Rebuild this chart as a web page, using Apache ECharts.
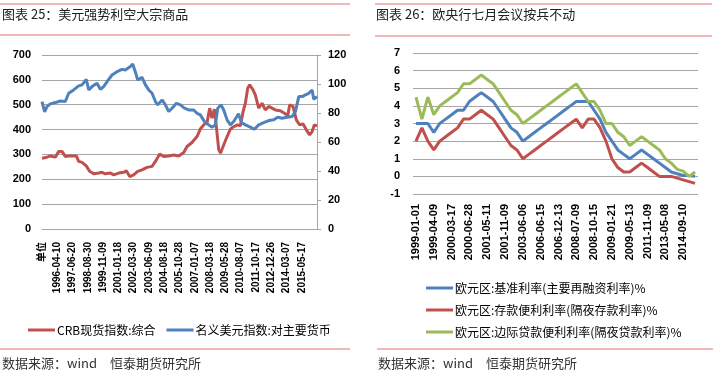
<!DOCTYPE html>
<html><head><meta charset="utf-8">
<script src="https://cdn.jsdelivr.net/npm/echarts@6/dist/echarts.min.js"></script>
<style>html,body{margin:0;padding:0;background:#fff}#c{width:717px;height:382px}</style>
</head><body><div id="c"></div>
<script>
// ---------- Left chart data (CRB vs US dollar index) ----------
const crbDates = ['1995-01-30','1995-06-20','1995-09-24','1996-02-14','1996-05-18','1996-08-22','1996-11-25','1997-03-01','1997-06-03','1997-10-05','1997-12-12','1998-03-18','1998-07-16','1998-10-19','1999-02-14','1999-07-05','1999-10-08','2000-01-12','2000-06-03','2000-09-06','2001-01-26','2001-06-18','2001-09-02','2001-12-06','2002-03-28','2002-07-22','2002-11-24','2003-04-16','2003-09-06','2003-12-10','2004-04-11','2004-08-04','2004-12-24','2005-05-16','2005-10-05','2006-02-25','2006-05-30','2006-10-19','2007-03-11','2007-06-13','2007-10-07','2007-12-20','2008-03-07','2008-05-12','2008-07-18','2008-09-13','2008-11-20','2009-01-08','2009-03-25','2009-07-16','2009-10-19','2010-01-22','2010-05-16','2010-07-31','2010-10-16','2010-12-20','2011-02-24','2011-04-23','2011-07-27','2011-10-01','2012-01-04','2012-04-08','2012-07-12','2012-10-16','2013-01-19','2013-04-23','2013-09-13','2014-01-08','2014-04-11','2014-06-06','2014-09-09','2014-12-13','2015-03-18','2015-06-20','2015-09-24','2015-12-28','2016-03-07','2016-05-12','2016-07-27'];
const crbValues = [285,289,294,289,312,312,292,294,294,294,272,268,254,232,222,225,228,222,225,218,225,228,234,211,218,232,238,248,252,272,302,292,294,298,294,308,332,348,372,402,422,426,486,446,482,412,319,305,332,372,402,412,419,415,472,506,566,580,560,539,486,506,479,493,486,479,476,466,455,499,493,439,419,423,399,379,392,419,415];
const usdDates = ['1995-01-30','1995-04-15','1995-06-20','1995-09-24','1996-02-14','1996-07-05','1996-11-25','1997-03-01','1997-07-20','1997-12-12','1998-03-18','1998-07-16','1998-09-24','1998-12-28','1999-05-18','1999-08-22','1999-11-25','2000-03-01','2000-07-20','2000-12-10','2001-05-01','2001-08-04','2001-12-25','2002-03-03','2002-05-15','2002-07-22','2002-11-24','2003-02-28','2003-06-03','2003-09-06','2003-12-10','2004-02-14','2004-06-17','2004-09-20','2004-12-24','2005-03-28','2005-07-30','2005-11-22','2006-03-15','2006-07-16','2006-12-06','2007-03-11','2007-06-13','2007-10-07','2008-02-07','2008-05-12','2008-08-15','2008-10-22','2009-01-26','2009-04-11','2009-07-16','2009-10-19','2010-01-22','2010-06-07','2010-08-31','2010-12-20','2011-05-11','2011-09-02','2012-01-04','2012-05-26','2012-10-16','2013-03-08','2013-07-01','2013-10-30','2014-03-24','2014-08-15','2014-11-17','2015-02-21','2015-05-27','2015-08-29','2015-12-02','2016-03-07','2016-04-23','2016-07-27'];
const usdValues = [87.9,80.8,84.4,86.3,87.2,88.3,87.9,93.6,95.9,98.7,99.4,103.2,95.9,98.2,100.5,96.4,98.2,101.6,106.2,108.5,110.1,109.7,112.0,113.8,108.5,102.8,104.6,99.4,95.9,93.6,87.9,85.6,89.0,85.6,81.0,83.3,86.7,85.6,83.3,82.1,82.1,79.8,78.7,74.1,71.8,70.2,71.8,83.3,85.6,82.1,75.3,71.8,74.1,79.5,73.5,71.8,70.2,68.8,71.8,73.4,74.8,75.3,77.1,76.4,77.1,77.6,81.0,91.3,91.3,92.5,93.6,95.9,89.5,91.3];
const leftTicks = [0,100,200,300,400,500,600,700];
const rightTicks = [0,20,40,60,80,100,120];

// ---------- Right chart data (ECB rates) ----------
const ecbDates = ['1999-01-01','1999-01-04','1999-01-22','1999-04-09','1999-11-05','2000-02-04','2000-03-17','2000-04-28','2000-06-09','2000-06-28','2000-09-01','2000-10-06','2001-05-11','2001-08-31','2001-09-18','2001-11-09','2002-12-06','2003-03-07','2003-06-06','2005-12-06','2006-03-08','2006-06-15','2006-08-09','2006-10-11','2006-12-13','2007-03-14','2007-06-13','2008-07-09','2008-10-08','2008-10-09','2008-10-15','2008-11-12','2008-12-10','2009-01-21','2009-03-11','2009-04-08','2009-05-13','2011-04-13','2011-07-13','2011-11-09','2011-12-14','2012-07-11','2013-05-08','2013-11-13','2014-06-11','2014-09-10','2015-12-09','2016-03-16'];
const mroRate = [3,3,3,2.5,3,3.25,3.5,3.75,3.75,4.25,4.5,4.75,4.5,4.25,3.75,3.25,2.75,2.5,2,2.25,2.5,2.75,3,3.25,3.5,3.75,4,4.25,4.25,4.25,3.75,3.25,2.5,2,1.5,1.25,1,1.25,1.5,1.25,1,0.75,0.5,0.25,0.15,0.05,0.05,0];
const depRate = [2,2.75,2,1.5,2,2.25,2.5,2.75,3.25,3.25,3.5,3.75,3.5,3.25,2.75,2.25,1.75,1.5,1,1.25,1.5,1.75,2,2.25,2.5,2.75,3,3.25,2.75,3.25,3.25,2.75,2,1,0.5,0.25,0.25,0.5,0.75,0.5,0.25,0,0,0,-0.1,-0.2,-0.3,-0.4];
const mlfRate = [4.5,3.25,4.5,3.5,4,4.25,4.5,4.75,5.25,5.25,5.5,5.75,5.5,5.25,4.75,4.25,3.75,3.5,3,3.25,3.5,3.75,4,4.25,4.5,4.75,5,5.25,4.75,4.25,4.25,3.75,3,3,2.5,2.25,1.75,2,2.25,2,1.75,1.5,1,0.75,0.4,0.3,0,0.25];

const seriesNames = ['CRB现货指数:综合','名义美元指数:对主要货币','欧元区:基准利率(主要再融资利率)%','欧元区:存款便利利率(隔夜存款利率)%','欧元区:边际贷款便利利率(隔夜贷款利率)%'];

const RED = '#C0504D', BLUE = '#4F81BD', GREEN = '#9BBB59', GRID = '#A6A6A6', LINE = '#E07070';
const FONT = '"Liberation Sans", "Noto Sans CJK SC", sans-serif';
const CJK = '"Noto Sans CJK SC", sans-serif';

const DAY = 86400000;
const base = Date.UTC(1995, 0, 30);
function dayOf(s) { const p = s.split('-'); return Math.round((Date.UTC(+p[0], +p[1]-1, +p[2]) - base) / DAY); }
function dateOf(d) { const t = new Date(base + d * DAY); const m = t.getUTCMonth()+1, dd = t.getUTCDate(); return t.getUTCFullYear() + '-' + (m<10?'0':'') + m + '-' + (dd<10?'0':'') + dd; }

const crbData = crbDates.map((d, i) => [dayOf(d), crbValues[i]]);
const usdData = usdDates.map((d, i) => [dayOf(d), usdValues[i]]);

const chart = echarts.init(document.getElementById('c'), null, {renderer: 'canvas'});
const axisNum = {color: '#000', fontSize: 11, fontWeight: 'bold', fontFamily: FONT};

chart.setOption({
  animation: false,
  backgroundColor: '#fff',
  grid: [
    {left: 42, right: 400, top: 55, bottom: 153},
    {left: 413, right: 19, top: 53, bottom: 188}
  ],
  xAxis: [
    {type: 'value', gridIndex: 0, min: 0, max: 7847, interval: 436,
     axisLine: {show: true, lineStyle: {color: GRID}}, axisTick: {show: false}, splitLine: {show: false},
     axisLabel: {rotate: 90, margin: 13, fontSize: 10, fontWeight: 'bold', color: '#000', fontFamily: FONT,
                 showMaxLabel: false, formatter: v => v === 0 ? '单位' : dateOf(v)}},
    {type: 'category', gridIndex: 1, data: ecbDates, boundaryGap: true,
     axisLine: {show: false, onZero: false}, axisTick: {show: false},
     axisLabel: {interval: 2, rotate: 90, margin: 10, fontSize: 11, fontWeight: 'bold', color: '#000', fontFamily: FONT}}
  ],
  yAxis: [
    {type: 'value', gridIndex: 0, min: leftTicks[0], max: leftTicks[leftTicks.length-1], interval: 100,
     axisLine: {show: false}, axisTick: {show: false},
     splitLine: {lineStyle: {color: GRID, width: 1}},
     axisLabel: Object.assign({margin: 11}, axisNum)},
    {type: 'value', gridIndex: 0, position: 'right', min: rightTicks[0], max: rightTicks[rightTicks.length-1], interval: 20,
     axisLine: {show: true, lineStyle: {color: GRID}}, axisTick: {show: true, length: 4, lineStyle: {color: GRID}},
     splitLine: {show: false},
     axisLabel: Object.assign({margin: 11}, axisNum)},
    {type: 'value', gridIndex: 1, min: -1, max: 7, interval: 1,
     axisLine: {show: false}, axisTick: {show: false},
     splitLine: {lineStyle: {color: GRID, width: 1}},
     axisLabel: Object.assign({margin: 13}, axisNum)}
  ],
  legend: [
    {data: [seriesNames[0], seriesNames[1]], left: 23, top: 319, orient: 'horizontal', itemGap: 11,
     itemWidth: 27, itemHeight: 3, icon: 'rect', textStyle: {fontSize: 12, color: '#000', fontFamily: CJK, padding: [0,0,0,-3]}},
    {data: [seriesNames[2], seriesNames[3], seriesNames[4]], left: 421, top: 276, orient: 'vertical', itemGap: 8,
     itemWidth: 27, itemHeight: 3, icon: 'rect', textStyle: {fontSize: 12, color: '#000', fontFamily: CJK, lineHeight: 14, padding: [0,0,0,-3]}}
  ],
  series: [
    {name: seriesNames[0], type: 'line', xAxisIndex: 0, yAxisIndex: 0, data: crbData, symbol: 'none', lineStyle: {color: RED, width: 3}, itemStyle: {color: RED}},
    {name: seriesNames[1], type: 'line', xAxisIndex: 0, yAxisIndex: 1, data: usdData, symbol: 'none', lineStyle: {color: BLUE, width: 3}, itemStyle: {color: BLUE}},
    {name: seriesNames[2], type: 'line', xAxisIndex: 1, yAxisIndex: 2, data: mroRate, symbol: 'none', lineStyle: {color: BLUE, width: 3}, itemStyle: {color: BLUE}},
    {name: seriesNames[3], type: 'line', xAxisIndex: 1, yAxisIndex: 2, data: depRate, symbol: 'none', lineStyle: {color: RED, width: 3}, itemStyle: {color: RED}},
    {name: seriesNames[4], type: 'line', xAxisIndex: 1, yAxisIndex: 2, data: mlfRate, symbol: 'none', lineStyle: {color: GREEN, width: 3}, itemStyle: {color: GREEN}}
  ],
  graphic: [
    {type: 'line', shape: {x1: 0, y1: 4, x2: 350, y2: 4}, style: {stroke: LINE, lineWidth: 1}},
    {type: 'line', shape: {x1: 0, y1: 35, x2: 350, y2: 35}, style: {stroke: LINE, lineWidth: 1}},
    {type: 'line', shape: {x1: 375, y1: 4, x2: 712, y2: 4}, style: {stroke: LINE, lineWidth: 1}},
    {type: 'line', shape: {x1: 375, y1: 36, x2: 712, y2: 36}, style: {stroke: LINE, lineWidth: 1}},
    {type: 'line', shape: {x1: 0, y1: 349, x2: 350, y2: 349}, style: {stroke: LINE, lineWidth: 1}},
    {type: 'line', shape: {x1: 377, y1: 349, x2: 713, y2: 349}, style: {stroke: LINE, lineWidth: 1}},
    {type: 'text', left: 2, top: 8, style: {text: '图表 25：美元强势利空大宗商品', fontSize: 13, fill: '#222', fontFamily: CJK}},
    {type: 'text', left: 376, top: 8, style: {text: '图表 26：欧央行七月会议按兵不动', fontSize: 13, fill: '#222', fontFamily: CJK}},
    {type: 'text', left: 2, top: 357, style: {text: '数据来源：wind　恒泰期货研究所', fontSize: 13, fill: '#333', fontFamily: CJK}},
    {type: 'text', left: 378, top: 357, style: {text: '数据来源：wind　恒泰期货研究所', fontSize: 13, fill: '#333', fontFamily: CJK}}
  ]
});
</script></body></html>
